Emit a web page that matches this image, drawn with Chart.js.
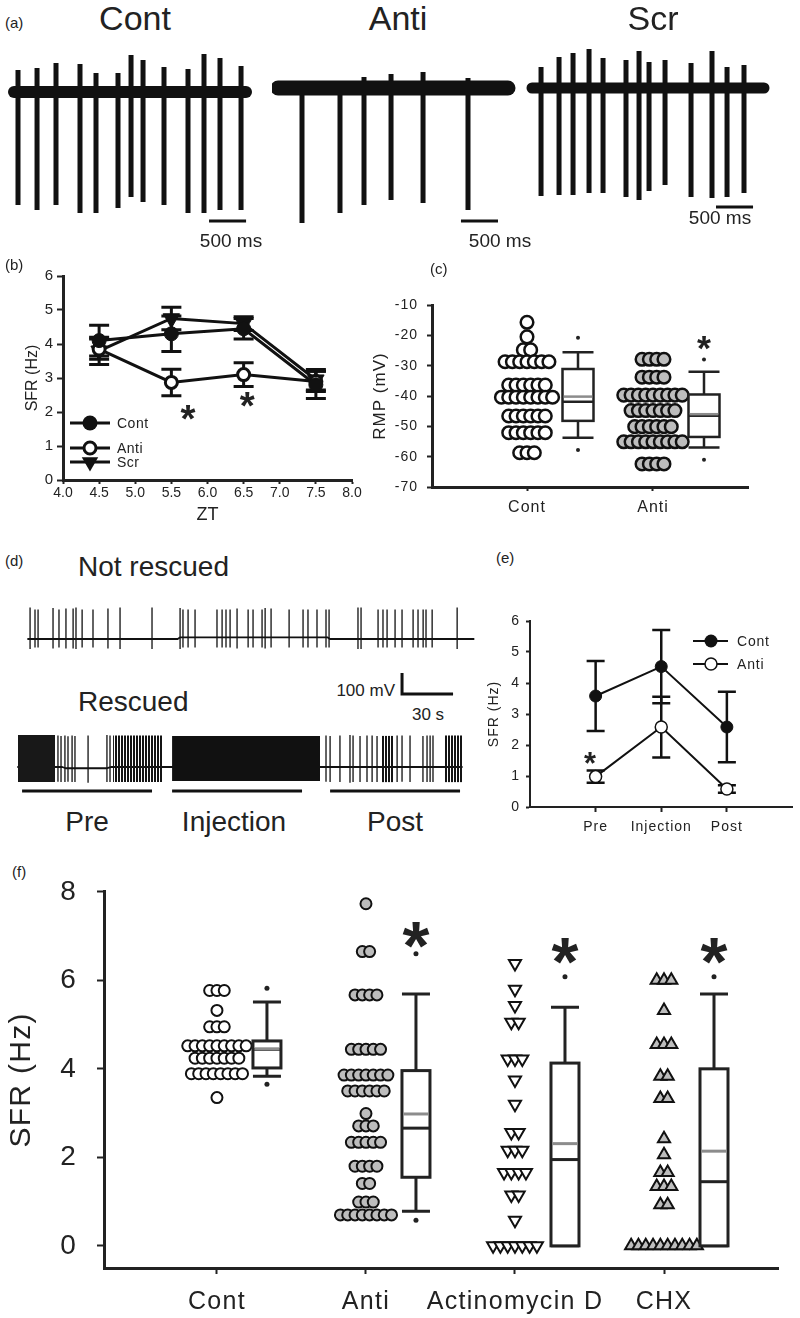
<!DOCTYPE html>
<html>
<head>
<meta charset="utf-8">
<title>SFR figure</title>
<script src="https://cdn.jsdelivr.net/npm/chart.js@4.4.1/dist/chart.umd.min.js"></script>
<style>
  body { margin: 0; background: #fff; }
  #page { position: relative; width: 800px; height: 1318px; overflow: hidden;
          font-family: "Liberation Sans", Arial, sans-serif; color: #222; }
  #page canvas { position: absolute; }
  .txt { position: absolute; white-space: nowrap; line-height: 1; }
</style>
</head>
<body>
<div id="page"></div>
<script>
// ---------- (a) example recordings: spike times (ms), peak / trough (mV from baseline) ----------
const contSpikeTimes = [54, 311, 567, 891, 1107, 1404, 1580, 1742, 2025, 2349, 2565, 2781, 3065];
const contSpikePeaks = [22, 24, 29, 28, 19, 19, 37, 32, 25, 23, 38, 34, 26];
const contSpikeTroughs = [-113, -118, -113, -121, -121, -116, -105, -110, -113, -121, -121, -118, -118];
const antiSpikeTimes = [324, 837, 1161, 1526, 1958, 2565];
const antiSpikePeaks = [6, 6, 11, 14, 16, 10];
const antiSpikeTroughs = [-135, -125, -117, -112, -115, -122];
const scrSpikeTimes = [122, 365, 554, 770, 959, 1269, 1445, 1580, 1796, 2147, 2430, 2633, 2862];
const scrSpikePeaks = [21, 31, 35, 39, 30, 28, 37, 26, 28, 25, 37, 21, 23];
const scrSpikeTroughs = [-108, -107, -107, -105, -105, -109, -112, -103, -97, -109, -110, -109, -105];
const recordLengths = [3132, 3105, 3132];
const traceNames = ['Cont', 'Anti', 'Scr'];
const scaleBarMs = 500;

// ---------- (b) SFR vs ZT ----------
const ztHours = [4.5, 5.5, 6.5, 7.5];
const ztTicks = [4.0, 4.5, 5.0, 5.5, 6.0, 6.5, 7.0, 7.5, 8.0];
const sfrContZT = [4.1, 4.3, 4.45, 2.8];
const sfrContZTErr = [0.45, 0.52, 0.3, 0.4];
const sfrAntiZT = [3.85, 2.87, 3.1, 2.9];
const sfrAntiZTErr = [0.3, 0.39, 0.35, 0.3];
const sfrScrZT = [3.8, 4.75, 4.6, 2.95];
const sfrScrZTErr = [0.4, 0.33, 0.2, 0.3];
const starZT = [5.73, 6.55];
const starZTLevel = [2.0, 2.38];

// ---------- (c) resting membrane potential (mV) ----------
const rmpGroups = ['Cont', 'Anti'];
const rmpCont = [-15.7, -20.5, -24.8, -24.8,
  -28.7, -28.7, -28.7, -28.7, -28.7, -28.7, -28.7,
  -36.4, -36.4, -36.4, -36.4, -36.4, -36.4,
  -40.4, -40.4, -40.4, -40.4, -40.4, -40.4, -40.4, -40.4,
  -46.6, -46.6, -46.6, -46.6, -46.6, -46.6,
  -52.1, -52.1, -52.1, -52.1, -52.1, -52.1,
  -58.7, -58.7, -58.7];
const rmpAnti = [-27.9, -27.9, -27.9, -27.9,
  -33.8, -33.8, -33.8, -33.8,
  -39.7, -39.7, -39.7, -39.7, -39.7, -39.7, -39.7, -39.7, -39.7,
  -44.8, -44.8, -44.8, -44.8, -44.8, -44.8, -44.8,
  -50.1, -50.1, -50.1, -50.1, -50.1, -50.1,
  -55.1, -55.1, -55.1, -55.1, -55.1, -55.1, -55.1, -55.1, -55.1,
  -62.4, -62.4, -62.4, -62.4];
// whisker low, q1, median, mean, q3, whisker high
const rmpContBox = [-53.8, -48.2, -41.9, -40.2, -31.1, -25.6];
const rmpContOutliers = [-57.8, -20.8];
const rmpAntiBox = [-57.0, -53.5, -46.5, -46.0, -39.5, -32.0];
const rmpAntiOutliers = [-61.0, -28.0];
const rmpStar = [null, -22.5];

// ---------- (d) long recordings: spike times (s), peak / trough (mV) ----------
const nrSpikeTimes = [1.2, 4.1, 5.9, 14.7, 18.2, 22.3, 26.5, 28.2, 31.8, 38.2, 47.0, 54.1, 72.9, 89.4, 91.1, 94.1,
  98.2, 111.1, 114.1, 116.4, 118.8, 122.9, 129.4, 132.3, 137.6, 139.4, 142.9, 153.5, 161.7, 164.6, 169.9, 175.2,
  177.0, 194.0, 195.8, 205.8, 208.7, 211.1, 215.8, 219.9, 226.4, 229.3, 232.3, 234.0, 237.6, 252.3];
const nrSpikePeaks = [150, 140, 140, 148, 140, 145, 145, 150, 140, 140, 145, 150, 150, 148, 140, 140,
  140, 140, 140, 140, 140, 145, 140, 140, 140, 148, 145, 140, 140, 140, 140, 140,
  140, 150, 150, 140, 140, 140, 140, 140, 140, 140, 140, 140, 140, 150];
const nrSpikeTroughs = [-48, -40, -40, -45, -40, -45, -45, -48, -40, -40, -45, -48, -48, -48, -40, -40,
  -40, -40, -40, -40, -40, -45, -40, -40, -40, -45, -40, -40, -40, -40, -40, -40,
  -40, -48, -48, -40, -40, -40, -40, -40, -40, -40, -40, -40, -40, -48];
const nrBaselineT = [0, 88, 89.5, 176, 177.5, 262];
const nrBaselineV = [0, 0, 8, 8, 0, 0];
const rSpikeTimes = [23.5, 25.3, 27.6, 29.4, 31.8, 33.5, 41.2, 52.3, 54.1, 181.1, 183.5, 189.3, 195.2, 197.0,
  201.1, 205.2, 208.2, 211.1, 222.9, 225.8, 230.5, 238.1, 240.5, 242.3, 244.0];
const rSpikePeaks = [150, 148, 150, 146, 150, 148, 150, 152, 150, 150, 148, 150, 152, 150,
  148, 150, 150, 148, 150, 150, 150, 148, 150, 150, 150];
const rSpikeTroughs = [-70, -72, -72, -70, -72, -72, -75, -72, -72, -70, -72, -72, -75, -72,
  -72, -72, -72, -72, -72, -70, -72, -72, -72, -72, -72];
const rBurstStart = [0, 55.9, 90.6, 214.0, 250.5];
const rBurstEnd = [21.8, 85.3, 177.6, 220.5, 261.1];
const rBurstPeak = [152, 150, 148, 148, 150];
const rBurstTrough = [-72, -72, -67, -72, -72];
const rBaselineT = [0, 26, 28, 52, 55, 261];
const rBaselineV = [0, 0, -6, -6, 0, 0];
const periodNames = ['Pre', 'Injection', 'Post'];
const periodStart = [2.4, 90.6, 183.5];
const periodEnd = [78.8, 167.0, 259.9];
const scaleBarSec = 30;
const scaleBarMv = 100;

// ---------- (e) rescue experiment ----------
const rescueStages = ['Pre', 'Injection', 'Post'];
const sfrContRescue = [3.58, 4.53, 2.58];
const sfrContRescueErr = [1.13, 1.18, 1.14];
const sfrAntiRescue = [0.98, 2.58, 0.58];
const sfrAntiRescueErr = [0.2, 0.98, 0.12];
const starRescue = [0.914];
const starRescueLevel = [1.58];

// ---------- (f) SFR (Hz) per treatment ----------
const sfrGroups = ['Cont', 'Anti', 'Actinomycin D', 'CHX'];
const sfrCont = [5.77, 5.77, 5.77, 5.32, 4.95, 4.95, 4.95,
  4.52, 4.52, 4.52, 4.52, 4.52, 4.52, 4.52, 4.52, 4.52,
  4.24, 4.24, 4.24, 4.24, 4.24, 4.24, 4.24,
  3.89, 3.89, 3.89, 3.89, 3.89, 3.89, 3.89, 3.89, 3.35];
const sfrAnti = [7.73, 6.65, 6.65, 5.67, 5.67, 5.67, 5.67,
  4.44, 4.44, 4.44, 4.44, 4.44,
  3.86, 3.86, 3.86, 3.86, 3.86, 3.86, 3.86,
  3.5, 3.5, 3.5, 3.5, 3.5, 3.5, 2.99,
  2.71, 2.71, 2.71, 2.34, 2.34, 2.34, 2.34, 2.34,
  1.8, 1.8, 1.8, 1.8, 1.41, 1.41, 0.99, 0.99, 0.99,
  0.7, 0.7, 0.7, 0.7, 0.7, 0.7, 0.7, 0.7];
const sfrActD = [6.38, 5.8, 5.43, 5.05, 5.05, 4.22, 4.22, 4.22, 3.75, 3.2, 2.56, 2.56,
  2.16, 2.16, 2.16, 1.66, 1.66, 1.66, 1.66, 1.15, 1.15, 0.58,
  0, 0, 0, 0, 0, 0, 0];
const sfrChx = [6.0, 6.0, 6.0, 5.32, 4.55, 4.55, 4.55, 3.83, 3.83, 3.33, 3.33, 2.42, 2.06,
  1.66, 1.66, 1.34, 1.34, 1.34, 0.93, 0.93,
  0, 0, 0, 0, 0, 0, 0, 0, 0, 0];
const sfrContBox = [3.83, 4.02, 4.44, 4.45, 4.63, 5.51];
const sfrContOutliers = [3.65, 5.82];
const sfrAntiBox = [0.78, 1.55, 2.66, 2.98, 3.96, 5.69];
const sfrAntiOutliers = [0.58, 6.6];
const sfrActDBox = [0, 0, 1.95, 2.31, 4.13, 5.39];
const sfrActDOutliers = [6.08];
const sfrChxBox = [0, 0, 1.45, 2.14, 4.0, 5.69];
const sfrChxOutliers = [6.08];
const sfrStar = [null, 7.03, 6.66, 6.66];

// ---------- helpers ----------
const FONT = '"Liberation Sans", Arial, sans-serif';
Chart.defaults.font.family = FONT;
Chart.defaults.color = '#222';
Chart.defaults.animation = false;
Chart.defaults.responsive = false;
Chart.defaults.plugins.legend.display = false;
Chart.defaults.plugins.tooltip.enabled = false;

const page = document.getElementById('page');

function makeCanvas(left, top, w, h) {
  const c = document.createElement('canvas');
  c.width = w; c.height = h;
  c.style.left = left + 'px';
  c.style.top = top + 'px';
  page.appendChild(c);
  return c;
}

function addText(text, x, y, size, align) {
  const d = document.createElement('div');
  d.className = 'txt';
  d.textContent = text;
  d.style.left = x + 'px';
  d.style.top = y + 'px';
  d.style.fontSize = size + 'px';
  const shift = align === 'center' ? '-50%' : align === 'right' ? '-100%' : '0';
  d.style.transform = 'translate(' + shift + ', -50%)';
  page.appendChild(d);
}

const pts = (xs, ys) => xs.map((x, i) => ({ x, y: ys[i] }));

// spread equal values sideways, like a dot plot
function swarm(values, center, step) {
  const rows = new Map();
  values.forEach(v => rows.set(v, (rows.get(v) || 0) + 1));
  const out = [];
  rows.forEach((n, v) => {
    for (let i = 0; i < n; i++) out.push({ x: center + (i - (n - 1) / 2) * step, y: v });
  });
  return out;
}

// vertical hairline texture for dense firing
function stripes(dark) {
  const c = document.createElement('canvas');
  c.width = 3; c.height = 4;
  const g = c.getContext('2d');
  g.fillStyle = '#141414';
  g.fillRect(0, 0, dark, 4);
  return g.createPattern(c, 'repeat');
}

function drawStar(ctx, x, y, glyphW) {
  ctx.save();
  ctx.letterSpacing = '0px';
  ctx.font = 'bold 100px ' + FONT;
  let m = ctx.measureText('*');
  const size = 100 * glyphW / (m.actualBoundingBoxLeft + m.actualBoundingBoxRight);
  ctx.font = 'bold ' + size + 'px ' + FONT;
  m = ctx.measureText('*');
  ctx.textAlign = 'left';
  ctx.textBaseline = 'alphabetic';
  ctx.fillStyle = '#222';
  ctx.fillText('*', x - (m.actualBoundingBoxRight - m.actualBoundingBoxLeft) / 2,
    y + (m.actualBoundingBoxAscent - m.actualBoundingBoxDescent) / 2);
  ctx.restore();
}

function marker(ctx, shape, x, y, r, fill, bw) {
  ctx.save();
  ctx.fillStyle = fill;
  ctx.strokeStyle = '#111';
  ctx.lineWidth = bw;
  ctx.beginPath();
  if (shape === 'circle') {
    ctx.arc(x, y, r, 0, Math.PI * 2);
  } else {
    ctx.moveTo(x - r * 0.866, y - r / 2);
    ctx.lineTo(x + r * 0.866, y - r / 2);
    ctx.lineTo(x, y + r);
    ctx.closePath();
  }
  ctx.fill();
  if (bw) ctx.stroke();
  ctx.restore();
}

function yAxis(o) {
  return {
    type: 'linear', min: o.min, max: o.max,
    afterBuildTicks: s => { s.ticks = o.ticks.map(value => ({ value })); },
    afterFit: s => { s.width = o.width; },
    ticks: { font: { size: o.size }, color: '#222', padding: o.pad, autoSkip: false },
    grid: { drawOnChartArea: false, tickLength: o.tl, tickWidth: 2, tickColor: '#222' },
    border: { width: o.border, color: '#222' },
    title: o.title
      ? { display: true, text: o.title, font: { size: o.titleSize }, color: '#222', padding: { top: o.titlePad, bottom: 0 } }
      : { display: false }
  };
}

function xAxis(o) {
  return {
    type: 'linear', min: o.min, max: o.max,
    afterBuildTicks: s => { s.ticks = o.ticks.map(value => ({ value })); },
    afterFit: s => { s.height = o.height; },
    ticks: { font: { size: o.size }, color: '#222', padding: o.pad, autoSkip: false, maxRotation: 0,
             callback: (v, i) => o.labels[i] },
    grid: { drawOnChartArea: false, tickLength: o.tl, tickWidth: 2, tickColor: '#222' },
    border: { width: o.border, color: '#222' },
    title: o.title
      ? { display: true, text: o.title, font: { size: o.titleSize }, color: '#222', padding: { top: 0, bottom: o.titlePad } }
      : { display: false }
  };
}

const spacing = ls => ({
  id: 'letterSpacing',
  beforeDraw(chart) { chart.ctx.letterSpacing = ls; },
  afterDraw(chart) { chart.ctx.letterSpacing = '0px'; }
});

function errorBars(capHalf, lw) {
  return {
    id: 'errorBars',
    beforeDatasetsDraw(chart) {
      const { ctx } = chart;
      const ys = chart.scales.y;
      chart.data.datasets.forEach((ds, di) => {
        if (!ds.errors) return;
        chart.getDatasetMeta(di).data.forEach((p, j) => {
          const v = ds.data[j].y, e = ds.errors[j];
          const top = ys.getPixelForValue(v + e), bot = ys.getPixelForValue(v - e);
          ctx.save();
          ctx.strokeStyle = '#111';
          ctx.lineWidth = lw;
          ctx.beginPath();
          ctx.moveTo(p.x, top); ctx.lineTo(p.x, bot);
          ctx.moveTo(p.x - capHalf, top); ctx.lineTo(p.x + capHalf, top);
          ctx.moveTo(p.x - capHalf, bot); ctx.lineTo(p.x + capHalf, bot);
          ctx.stroke();
          ctx.restore();
        });
      });
    }
  };
}

function lineLegend(items, o) {
  return {
    id: 'lineLegend',
    afterDraw(chart) {
      const { ctx, chartArea: a } = chart;
      items.forEach(it => {
        const y = a.top + it.dy;
        ctx.save();
        ctx.strokeStyle = '#111';
        ctx.lineWidth = o.lw;
        ctx.beginPath();
        ctx.moveTo(a.left + o.x0, y);
        ctx.lineTo(a.left + o.x1, y);
        ctx.stroke();
        marker(ctx, it.shape, a.left + o.xm, y, it.r, it.fill, it.bw);
        ctx.fillStyle = '#222';
        ctx.font = o.size + 'px ' + FONT;
        ctx.letterSpacing = o.ls;
        ctx.textBaseline = 'middle';
        ctx.fillText(it.label, a.left + o.xt, y + 1);
        ctx.restore();
      });
    }
  };
}

function starPlugin(xs, ys, glyphW) {
  return {
    id: 'stars',
    afterDatasetsDraw(chart) {
      const { ctx, scales: { x, y } } = chart;
      xs.forEach((v, i) => drawStar(ctx, x.getPixelForValue(v), y.getPixelForValue(ys[i]), glyphW));
    }
  };
}

// box plots drawn beside each dot column
function boxPlugin(boxes, st) {
  return {
    id: 'boxes',
    afterDatasetsDraw(chart) {
      const { ctx, scales: { x, y } } = chart;
      const Y = v => y.getPixelForValue(v);
      boxes.forEach(b => {
        const cx = x.getPixelForValue(b.cat) + st.offset;
        const h = st.width / 2;
        const [lo, q1, med, mean, q3, hi] = b.stats;
        ctx.save();
        ctx.lineWidth = st.lw;
        ctx.strokeStyle = '#222';
        ctx.beginPath();
        ctx.moveTo(cx, Y(q3)); ctx.lineTo(cx, Y(hi));
        ctx.moveTo(cx - h, Y(hi)); ctx.lineTo(cx + h, Y(hi));
        ctx.moveTo(cx, Y(q1)); ctx.lineTo(cx, Y(lo));
        ctx.moveTo(cx - h, Y(lo)); ctx.lineTo(cx + h, Y(lo));
        ctx.stroke();
        ctx.fillStyle = '#fff';
        ctx.fillRect(cx - h, Y(q3), 2 * h, Y(q1) - Y(q3));
        ctx.strokeRect(cx - h, Y(q3), 2 * h, Y(q1) - Y(q3));
        ctx.beginPath();
        ctx.moveTo(cx - h, Y(med)); ctx.lineTo(cx + h, Y(med));
        ctx.stroke();
        ctx.strokeStyle = '#8c8c8c';
        ctx.beginPath();
        ctx.moveTo(cx - h + st.lw / 2, Y(mean)); ctx.lineTo(cx + h - st.lw / 2, Y(mean));
        ctx.stroke();
        ctx.fillStyle = '#222';
        b.out.forEach(v => { ctx.beginPath(); ctx.arc(cx, Y(v), st.dot, 0, Math.PI * 2); ctx.fill(); });
        ctx.restore();
        if (b.star != null) drawStar(ctx, cx, Y(b.star), st.star);
      });
    }
  };
}

// one membrane recording drawn as line pieces on hidden linear axes
function traceChart(canvas, t) {
  const datasets = [];
  const piece = (data, width) => ({ data, borderColor: '#111', borderWidth: width, pointRadius: 0, fill: false, borderCapStyle: 'butt' });
  (t.bursts || []).forEach(b => datasets.push({
    data: [{ x: b[0], y: b[2] }, { x: b[1], y: b[2] }],
    borderWidth: 0, pointRadius: 0, backgroundColor: b[4], fill: { value: b[3] }
  }));
  const base = piece(t.baseline, t.baseWidth);
  base.borderCapStyle = 'round';
  base.borderJoinStyle = 'round';
  datasets.push(base);
  datasets.push(piece(t.times.flatMap((s, i) => [{ x: s, y: t.peaks[i] }, { x: s, y: t.troughs[i] }, { x: s, y: null }]), t.spikeWidth));
  (t.extra || []).forEach(e => datasets.push(piece(e, t.barWidth)));
  return new Chart(canvas, {
    type: 'line',
    data: { datasets },
    options: {
      layout: { padding: 0 },
      elements: { line: { tension: 0 } },
      scales: {
        x: { type: 'linear', display: false, min: t.xMin, max: t.xMax },
        y: { type: 'linear', display: false, min: t.yMin, max: t.yMax }
      }
    }
  });
}

// ---------- panel (a) ----------
addText('(a)', 5, 22, 15);
const aSpikes = [
  [contSpikeTimes, contSpikePeaks, contSpikeTroughs],
  [antiSpikeTimes, antiSpikePeaks, antiSpikeTroughs],
  [scrSpikeTimes, scrSpikePeaks, scrSpikeTroughs]
];
const aLayout = [
  { left: 8, yMin: -138, yMax: 52, base: 12, bar: [2633, -129], title: 135, barText: [231, 240] },
  { left: 272, yMin: -142, yMax: 48, base: 15, bar: [2470, -133], title: 398, barText: [500, 240] },
  { left: 526, yMin: -142, yMax: 48, base: 11, bar: [2484, -119], title: 653, barText: [720, 217] }
];
aLayout.forEach((L, k) => {
  const [times, peaks, troughs] = aSpikes[k];
  traceChart(makeCanvas(L.left, 40, 245, 190), {
    times, peaks, troughs,
    baseline: [{ x: 0, y: 0 }, { x: recordLengths[k], y: 0 }],
    baseWidth: L.base, spikeWidth: 5, barWidth: 3,
    extra: [[{ x: L.bar[0], y: L.bar[1] }, { x: L.bar[0] + scaleBarMs, y: L.bar[1] }]],
    xMin: -81, xMax: 3226.5, yMin: L.yMin, yMax: L.yMax
  });
  addText(traceNames[k], L.title, 18, 34, 'center');
  addText(scaleBarMs + ' ms', L.barText[0], L.barText[1], 19, 'center');
});

// ---------- panel (b) ----------
addText('(b)', 5, 264, 15);
new Chart(makeCanvas(0, 250, 375, 280), {
  type: 'scatter',
  data: {
    datasets: [
      { data: pts(ztHours, sfrContZT), errors: sfrContZTErr, showLine: true, borderColor: '#111', borderWidth: 3,
        pointRadius: 7, pointBorderWidth: 1, pointBackgroundColor: '#111', pointBorderColor: '#111' },
      { data: pts(ztHours, sfrAntiZT), errors: sfrAntiZTErr, showLine: true, borderColor: '#111', borderWidth: 3,
        pointRadius: 6, pointBorderWidth: 3, pointBackgroundColor: '#fff', pointBorderColor: '#111' },
      { data: pts(ztHours, sfrScrZT), errors: sfrScrZTErr, showLine: true, borderColor: '#111', borderWidth: 3,
        pointStyle: 'triangle', pointRotation: 180, pointRadius: 9.5, pointBorderWidth: 1,
        pointBackgroundColor: '#111', pointBorderColor: '#111' }
    ]
  },
  options: {
    layout: { padding: { left: 0, top: 26, right: 23, bottom: 0 } },
    scales: {
      x: xAxis({ min: 4, max: 8, ticks: ztTicks, labels: ztTicks.map(v => v.toFixed(1)), height: 50, size: 14,
                 tl: 4, pad: 1, border: 3, title: 'ZT', titleSize: 18, titlePad: 4 }),
      y: yAxis({ min: 0, max: 6, ticks: [0, 1, 2, 3, 4, 5, 6], width: 63, size: 15, tl: 6, pad: 4, border: 3,
                 title: 'SFR (Hz)', titleSize: 16, titlePad: 23 })
    }
  },
  plugins: [
    errorBars(10, 3),
    starPlugin(starZT, starZTLevel, 15),
    lineLegend([
      { label: 'Cont', dy: 147, shape: 'circle', r: 7.5, fill: '#111', bw: 0 },
      { label: 'Scr', dy: 186, shape: 'tri', r: 9.5, fill: '#111', bw: 0 },
      { label: 'Anti', dy: 172, shape: 'circle', r: 6, fill: '#fff', bw: 3 }
    ], { x0: 7, x1: 47, xm: 27, xt: 54, lw: 3, size: 14, ls: '0.5px' })
  ]
});

// ---------- panel (c) ----------
addText('(c)', 430, 268, 15);
new Chart(makeCanvas(360, 285, 430, 240), {
  type: 'scatter',
  data: {
    datasets: [
      { data: swarm(rmpCont, 1, 0.058), pointRadius: 6.3, pointBorderWidth: 2.5,
        pointBackgroundColor: '#fff', pointBorderColor: '#111' },
      { data: swarm(rmpAnti, 2, 0.058), pointRadius: 6.3, pointBorderWidth: 2.5,
        pointBackgroundColor: '#bdbdbd', pointBorderColor: '#111' }
    ]
  },
  options: {
    layout: { padding: { left: 0, top: 20, right: 42, bottom: 0 } },
    scales: {
      x: xAxis({ min: 0.246, max: 2.754, ticks: [1, 2], labels: rmpGroups, height: 38, size: 16, tl: 4, pad: 7, border: 3 }),
      y: yAxis({ min: -70, max: -10, ticks: [-70, -60, -50, -40, -30, -20, -10], width: 72, size: 14, tl: 5, pad: 9,
                 border: 3, title: 'RMP (mV)', titleSize: 17, titlePad: 10 })
    }
  },
  plugins: [
    spacing('1px'),
    boxPlugin([
      { cat: 1, stats: rmpContBox, out: rmpContOutliers, star: rmpStar[0] },
      { cat: 2, stats: rmpAntiBox, out: rmpAntiOutliers, star: rmpStar[1] }
    ], { offset: 51, width: 31, lw: 2.5, dot: 2, star: 14 })
  ]
});

// ---------- panel (d) ----------
addText('(d)', 5, 560, 15);
addText('Not rescued', 78, 567, 28);
addText('Rescued', 78, 702, 28);
addText(scaleBarMv + ' mV', 395, 690, 17, 'right');
addText(scaleBarSec + ' s', 428, 714, 17, 'center');
traceChart(makeCanvas(10, 595, 465, 65), {
  times: nrSpikeTimes, peaks: nrSpikePeaks, troughs: nrSpikeTroughs,
  baseline: pts(nrBaselineT, nrBaselineV), baseWidth: 1.8, spikeWidth: 1.3,
  xMin: -10.6, xMax: 262.8, yMin: -100, yMax: 209.4
});
const barT0 = 225.8, barV0 = 347, periodLevel = -114;
const hairlines = stripes(2);
const burstFill = ['#181818', hairlines, '#111', hairlines, hairlines];
traceChart(makeCanvas(10, 665, 465, 135), {
  times: rSpikeTimes, peaks: rSpikePeaks, troughs: rSpikeTroughs,
  bursts: rBurstStart.map((s, i) => [s, rBurstEnd[i], rBurstPeak[i], rBurstTrough[i], burstFill[i]]),
  baseline: pts(rBaselineT, rBaselineV), baseWidth: 1.8, spikeWidth: 1.3, barWidth: 3,
  extra: [
    [{ x: barT0, y: barV0 + scaleBarMv }, { x: barT0, y: barV0 }, { x: barT0 + scaleBarSec, y: barV0 }],
    ...periodStart.map((s, i) => [{ x: s, y: periodLevel }, { x: periodEnd[i], y: periodLevel }])
  ],
  xMin: -4.7, xMax: 268.7, yMin: -157.1, yMax: 485.5
});
const periodLabelX = [87, 234, 395];
periodNames.forEach((n, i) => addText(n, periodLabelX[i], 822, 28, 'center'));

// ---------- panel (e) ----------
addText('(e)', 496, 557, 15);
const stageX = rescueStages.map((_, i) => i + 1);
new Chart(makeCanvas(470, 600, 330, 250), {
  type: 'scatter',
  data: {
    datasets: [
      { data: pts(stageX, sfrContRescue), errors: sfrContRescueErr, showLine: true, borderColor: '#111', borderWidth: 2,
        pointRadius: 6, pointBorderWidth: 1, pointBackgroundColor: '#111', pointBorderColor: '#111' },
      { data: pts(stageX, sfrAntiRescue), errors: sfrAntiRescueErr, showLine: true, borderColor: '#111', borderWidth: 2,
        pointRadius: 6, pointBorderWidth: 1.5, pointBackgroundColor: '#fff', pointBorderColor: '#111' }
    ]
  },
  options: {
    layout: { padding: { left: 0, top: 21, right: 3, bottom: 0 } },
    scales: {
      x: xAxis({ min: 0, max: 4, ticks: stageX, labels: rescueStages, height: 43, size: 14, tl: 5, pad: 7, border: 2 }),
      y: yAxis({ min: 0, max: 6, ticks: [0, 1, 2, 3, 4, 5, 6], width: 60, size: 14, tl: 4, pad: 6, border: 2,
                 title: 'SFR (Hz)', titleSize: 14, titlePad: 15.6 })
    }
  },
  plugins: [
    spacing('1px'),
    errorBars(9, 2.5),
    starPlugin(starRescue, starRescueLevel, 12),
    lineLegend([
      { label: 'Cont', dy: 20, shape: 'circle', r: 6.5, fill: '#111', bw: 0 },
      { label: 'Anti', dy: 43, shape: 'circle', r: 6, fill: '#fff', bw: 1.5 }
    ], { x0: 163, x1: 198, xm: 181, xt: 207, lw: 2, size: 14, ls: '0.8px' })
  ]
});

// ---------- panel (f) ----------
addText('(f)', 12, 871, 15);
const fStep = 0.049;
new Chart(makeCanvas(0, 855, 800, 463), {
  type: 'scatter',
  data: {
    datasets: [
      { data: swarm(sfrCont, 1, fStep), pointRadius: 5.5, pointBorderWidth: 2,
        pointBackgroundColor: '#fff', pointBorderColor: '#111' },
      { data: swarm(sfrAnti, 2, fStep), pointRadius: 5.5, pointBorderWidth: 2,
        pointBackgroundColor: '#bdbdbd', pointBorderColor: '#111' },
      { data: swarm(sfrActD, 3, fStep), pointStyle: 'triangle', pointRotation: 180, pointRadius: 7, pointBorderWidth: 2,
        pointBackgroundColor: '#fff', pointBorderColor: '#111' },
      { data: swarm(sfrChx, 4, fStep), pointStyle: 'triangle', pointRadius: 7, pointBorderWidth: 2,
        pointBackgroundColor: '#bdbdbd', pointBorderColor: '#111' }
    ]
  },
  options: {
    layout: { padding: { left: 0, top: 20, right: 22, bottom: 0 } },
    scales: {
      x: xAxis({ min: 0.242, max: 4.765, ticks: [1, 2, 3, 4], labels: sfrGroups, height: 50, size: 25, tl: 6, pad: 13, border: 3 }),
      y: yAxis({ min: -0.5, max: 8, ticks: [0, 2, 4, 6, 8], width: 104, size: 28, tl: 7, pad: 20, border: 3,
                 title: 'SFR (Hz)', titleSize: 30, titlePad: 4 })
    }
  },
  plugins: [
    spacing('1.3px'),
    boxPlugin([
      { cat: 1, stats: sfrContBox, out: sfrContOutliers, star: sfrStar[0] },
      { cat: 2, stats: sfrAntiBox, out: sfrAntiOutliers, star: sfrStar[1] },
      { cat: 3, stats: sfrActDBox, out: sfrActDOutliers, star: sfrStar[2] },
      { cat: 4, stats: sfrChxBox, out: sfrChxOutliers, star: sfrStar[3] }
    ], { offset: 50, width: 28, lw: 3, dot: 2.5, star: 27 })
  ]
});
</script>
</body>
</html>
